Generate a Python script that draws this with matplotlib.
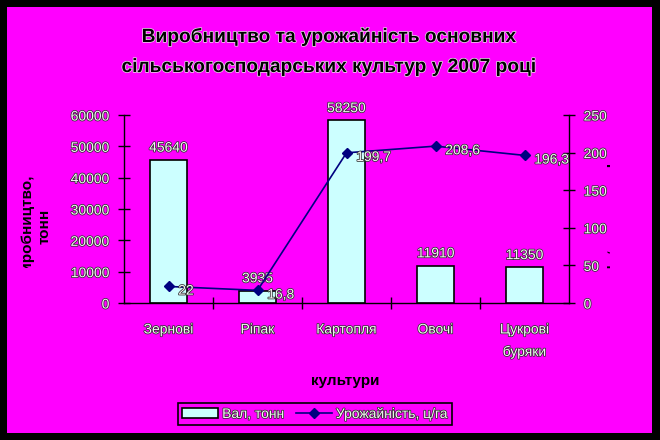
import numpy as np
import matplotlib
matplotlib.use('Agg')
import matplotlib.pyplot as plt
import matplotlib.patches as patches
import matplotlib.patheffects as pe

# Data
crops = ['Зернові', 'Ріпак', 'Картопля', 'Овочі', 'Цукрові\nбуряки']
gross = [45640, 3935, 58250, 11910, 11350]
yield_cha = [22, 16.8, 199.7, 208.6, 196.3]
yield_labels = ['22', '16,8', '199,7', '208,6', '196,3']
left_ticks = [0, 10000, 20000, 30000, 40000, 50000, 60000]
right_ticks = [0, 50, 100, 150, 200, 250]

MAGENTA = '#ff00ff'
CYAN = '#ccffff'
NAVY = '#000080'
FONT = ['Liberation Sans', 'DejaVu Sans']

plt.rcParams['font.family'] = FONT
W, H = 660, 440
fig = plt.figure(figsize=(6.6, 4.4), dpi=100, facecolor='black')

# magenta chart area inside black frame
bg = patches.Rectangle((7 / W, 1 - 433 / H), 645 / W, 426 / H,
                       transform=fig.transFigure, facecolor=MAGENTA,
                       edgecolor='none', zorder=-10)
fig.patches.append(bg)

light = dict(color='#f4f4f4',
             path_effects=[pe.withStroke(linewidth=1.1, foreground='#303030')])

ax = fig.add_axes([124 / W, 1 - 303 / H, 445 / W, 188 / H])
ax.set_facecolor('none')
x = np.arange(len(crops))
ax.bar(x, gross, width=0.41, color=CYAN, edgecolor='black', linewidth=1.2,
       zorder=2, label='Вал, тонн')
ax.set_xlim(-0.5, len(crops) - 0.5)
ax.set_ylim(0, 60000)
ax.set_yticks(left_ticks)
ax.set_yticklabels([str(t) for t in left_ticks], fontsize=10, **light)
ax.set_xticks(x)
ax.set_xticklabels(crops, fontsize=10, linespacing=1.7, va='top', **light)
ax.set_xticks(x[:-1] + 0.5, minor=True)
ax.tick_params(axis='x', which='major', length=0, pad=14)
ax.tick_params(axis='x', which='minor', length=8, direction='inout', width=1)
ax.tick_params(axis='y', length=9, direction='inout', width=1, pad=6)
for s in ['top', 'right']:
    ax.spines[s].set_visible(False)
ax.spines['left'].set_linewidth(1)
ax.spines['bottom'].set_linewidth(1)

for xi, v in zip(x, gross):
    ax.text(xi, v + 1700, str(v), ha='center', va='bottom', fontsize=10,
            **light, zorder=5)

ax2 = ax.twinx()
ax2.plot(x, yield_cha, color=NAVY, marker='D', markersize=5, linewidth=1.2,
         zorder=3, label='Урожайність, ц/га')
ax2.set_ylim(0, 250)
ax2.set_yticks(right_ticks)
ax2.set_yticklabels([str(t) for t in right_ticks], fontsize=10, **light)
ax2.tick_params(axis='y', length=9, direction='inout', width=1, pad=6)
for s in ['top', 'left', 'bottom']:
    ax2.spines[s].set_visible(False)
ax2.spines['right'].set_linewidth(1)
for xi, v, lab in zip(x, yield_cha, yield_labels):
    ax2.annotate(lab, (xi, v), xytext=(7, -3), textcoords='offset points',
                 ha='left', va='center', fontsize=10, **light, zorder=5)

# title
title_fx = [pe.withStroke(linewidth=1.0, foreground='#e8e8e8')]
fig.text(329 / W, 1 - 42 / H, 'Виробництво та урожайність основних',
         ha='center', va='baseline', fontsize=13.8, fontweight='bold',
         color='black', path_effects=title_fx)
fig.text(329 / W, 1 - 72 / H, 'сільськогосподарських культур у 2007 році',
         ha='center', va='baseline', fontsize=13.8, fontweight='bold',
         color='black', path_effects=title_fx)

# x label
fig.text(345 / W, 1 - 381 / H, 'культури', ha='center', va='center',
         fontsize=11, fontweight='bold', color='black')

# clipped axis titles
clip_l = patches.Rectangle((15 / W, 1 - 268 / H), 100 / W, 200 / H,
                           transform=fig.transFigure)
yl = fig.text(27 / W, 1 - 226 / H, 'Валове\nвиробництво,\nтонн',
              rotation=90, ha='center', va='center', fontsize=11,
              fontweight='bold', color='black', linespacing=1.35,
              multialignment='center')
yl.set_clip_path(clip_l)

clip_r = patches.Rectangle((606 / W, 0), 4 / W, 1,
                           transform=fig.transFigure)
yr = fig.text(606 / W, 1 - 220 / H, 'Урожайність, ц/га', rotation=-90,
              ha='left', va='center', fontsize=11, fontweight='bold',
              color='black')
yr.set_clip_path(clip_r)

# legend
h1, l1 = ax.get_legend_handles_labels()
h2, l2 = ax2.get_legend_handles_labels()
leg = fig.legend(h1 + h2, l1 + l2, loc='center', ncol=2,
                 bbox_to_anchor=(315 / W, 1 - 414 / H), fontsize=10,
                 frameon=True, fancybox=False, edgecolor='black',
                 facecolor=MAGENTA, framealpha=1, handlelength=2.6,
                 handletextpad=0.3, columnspacing=0.8, borderpad=0.3)
leg.get_frame().set_linewidth(1.2)
for t in leg.get_texts():
    t.set_color('#f4f4f4')
    t.set_path_effects([pe.withStroke(linewidth=1.1, foreground='#303030')])

fig.savefig('out.png', dpi=100, facecolor='black')
